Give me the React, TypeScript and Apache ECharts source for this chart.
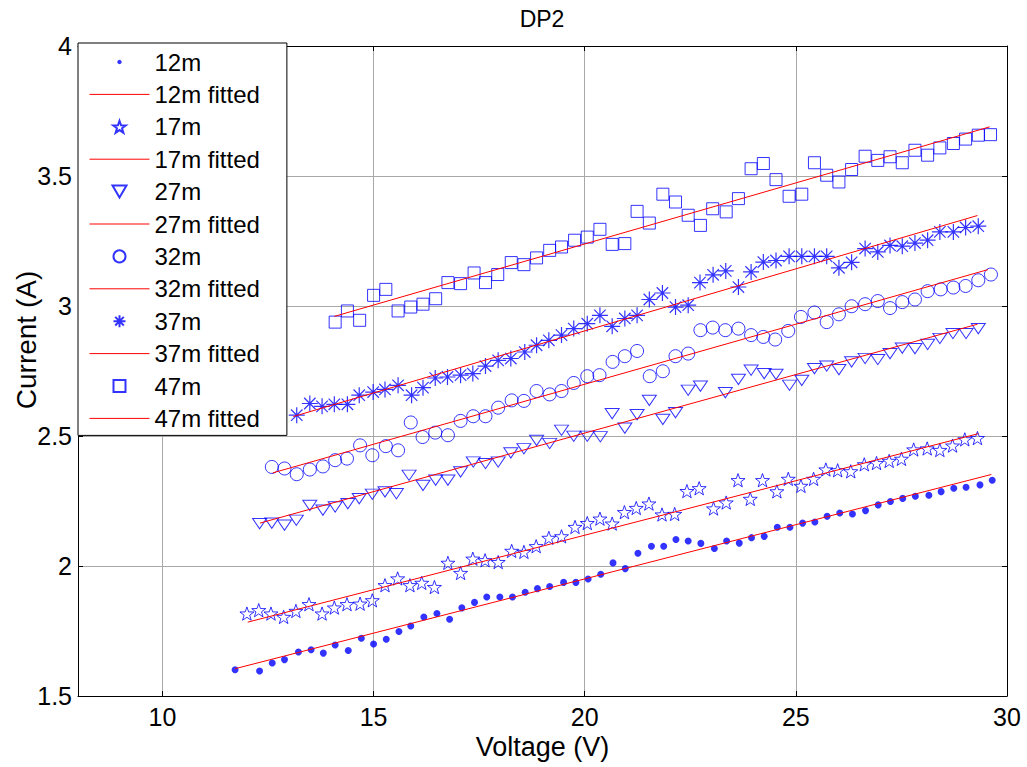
import React, { useEffect, useRef } from "react";
import * as echarts from "echarts";

// ---------- data ----------
const v12 = [11.72, 12.3, 12.6, 12.89, 13.22, 13.52, 13.81, 14.09, 14.4, 14.71, 15.0, 15.3, 15.6, 15.88, 16.19, 16.5, 16.8, 17.09, 17.39, 17.68, 17.99, 18.29, 18.59, 18.88, 19.17, 19.5, 19.79, 20.08, 20.38, 20.67, 20.96, 21.26, 21.58, 21.87, 22.16, 22.45, 22.75, 23.07, 23.36, 23.66, 23.95, 24.25, 24.56, 24.86, 25.16, 25.45, 25.74, 26.04, 26.34, 26.65, 26.95, 27.24, 27.53, 27.83, 28.15, 28.44, 28.74, 29.03, 29.36, 29.65];
const i12 = [1.601, 1.596, 1.627, 1.64, 1.669, 1.678, 1.665, 1.696, 1.675, 1.722, 1.7, 1.718, 1.748, 1.769, 1.804, 1.817, 1.795, 1.839, 1.86, 1.881, 1.881, 1.881, 1.899, 1.913, 1.921, 1.937, 1.937, 1.95, 1.968, 2.012, 1.99, 2.049, 2.076, 2.076, 2.102, 2.096, 2.087, 2.067, 2.096, 2.088, 2.109, 2.114, 2.149, 2.149, 2.165, 2.169, 2.191, 2.204, 2.2, 2.213, 2.235, 2.248, 2.26, 2.268, 2.272, 2.286, 2.299, 2.303, 2.312, 2.33];

const v17 = [12.0, 12.28, 12.57, 12.87, 13.16, 13.47, 13.78, 14.07, 14.37, 14.68, 14.97, 15.27, 15.57, 15.86, 16.14, 16.44, 16.76, 17.06, 17.35, 17.64, 17.95, 18.27, 18.56, 18.85, 19.15, 19.45, 19.77, 20.06, 20.36, 20.65, 20.94, 21.22, 21.52, 21.83, 22.13, 22.42, 22.71, 23.05, 23.35, 23.63, 23.92, 24.21, 24.55, 24.82, 25.12, 25.42, 25.71, 25.99, 26.3, 26.62, 26.91, 27.21, 27.5, 27.79, 28.11, 28.41, 28.71, 29.0, 29.3];
const i17 = [1.817, 1.83, 1.817, 1.804, 1.827, 1.853, 1.817, 1.84, 1.853, 1.855, 1.868, 1.926, 1.952, 1.926, 1.935, 1.919, 2.012, 1.973, 2.028, 2.022, 2.015, 2.058, 2.054, 2.076, 2.108, 2.114, 2.15, 2.165, 2.182, 2.163, 2.207, 2.223, 2.24, 2.198, 2.2, 2.288, 2.299, 2.221, 2.244, 2.33, 2.258, 2.33, 2.287, 2.335, 2.308, 2.335, 2.371, 2.368, 2.364, 2.391, 2.396, 2.404, 2.412, 2.448, 2.452, 2.446, 2.463, 2.487, 2.492];

const v27 = [12.3, 12.59, 12.89, 13.17, 13.49, 13.8, 14.09, 14.39, 14.66, 14.97, 15.27, 15.54, 15.84, 16.17, 16.47, 16.76, 17.06, 17.36, 17.65, 17.95, 18.25, 18.56, 18.86, 19.17, 19.45, 19.74, 20.06, 20.37, 20.65, 20.95, 21.24, 21.53, 21.85, 22.15, 22.45, 22.74, 23.33, 23.64, 23.94, 24.25, 24.53, 24.85, 25.14, 25.44, 25.73, 26.02, 26.32, 26.64, 26.94, 27.23, 27.52, 27.82, 28.12, 28.41, 28.72, 29.03, 29.32];
const i27 = [2.163, 2.165, 2.157, 2.176, 2.233, 2.215, 2.227, 2.24, 2.259, 2.276, 2.285, 2.278, 2.349, 2.31, 2.33, 2.33, 2.362, 2.4, 2.394, 2.4, 2.435, 2.451, 2.483, 2.471, 2.522, 2.499, 2.499, 2.497, 2.586, 2.53, 2.582, 2.637, 2.564, 2.59, 2.676, 2.692, 2.667, 2.718, 2.753, 2.74, 2.737, 2.695, 2.714, 2.759, 2.769, 2.755, 2.785, 2.798, 2.794, 2.817, 2.838, 2.836, 2.852, 2.875, 2.894, 2.894, 2.913];

const v32 = [12.59, 12.89, 13.18, 13.49, 13.8, 14.09, 14.37, 14.68, 14.97, 15.29, 15.58, 15.88, 16.16, 16.46, 16.76, 17.06, 17.36, 17.65, 17.95, 18.27, 18.56, 18.86, 19.17, 19.45, 19.74, 20.06, 20.35, 20.66, 20.95, 21.24, 21.54, 21.85, 22.15, 22.45, 22.74, 23.03, 23.33, 23.64, 23.94, 24.23, 24.51, 24.82, 25.12, 25.44, 25.73, 26.02, 26.32, 26.64, 26.94, 27.23, 27.52, 27.82, 28.12, 28.43, 28.73, 29.02, 29.32, 29.62];
const i32 = [2.381, 2.375, 2.353, 2.371, 2.383, 2.407, 2.413, 2.464, 2.426, 2.461, 2.445, 2.552, 2.496, 2.513, 2.503, 2.558, 2.576, 2.576, 2.609, 2.637, 2.635, 2.673, 2.66, 2.673, 2.704, 2.73, 2.734, 2.785, 2.807, 2.827, 2.73, 2.749, 2.807, 2.817, 2.907, 2.917, 2.907, 2.913, 2.888, 2.881, 2.871, 2.904, 2.958, 2.975, 2.938, 2.968, 2.999, 3.007, 3.019, 2.992, 3.015, 3.025, 3.057, 3.064, 3.071, 3.077, 3.099, 3.121];

const v37 = [13.18, 13.49, 13.78, 14.07, 14.38, 14.66, 14.99, 15.27, 15.58, 15.9, 16.17, 16.46, 16.75, 17.06, 17.35, 17.65, 17.95, 18.25, 18.58, 18.86, 19.15, 19.45, 19.74, 20.06, 20.36, 20.65, 20.95, 21.24, 21.53, 21.84, 22.15, 22.45, 22.73, 23.04, 23.34, 23.64, 23.94, 24.23, 24.53, 24.84, 25.14, 25.44, 25.73, 26.02, 26.32, 26.64, 26.94, 27.23, 27.52, 27.82, 28.12, 28.41, 28.73, 29.02, 29.32];
const i37 = [2.58, 2.625, 2.614, 2.622, 2.622, 2.657, 2.669, 2.679, 2.695, 2.657, 2.686, 2.723, 2.727, 2.734, 2.74, 2.769, 2.791, 2.798, 2.823, 2.849, 2.868, 2.888, 2.913, 2.932, 2.964, 2.922, 2.952, 2.964, 3.025, 3.05, 2.996, 3.003, 3.09, 3.12, 3.135, 3.073, 3.131, 3.169, 3.175, 3.191, 3.191, 3.191, 3.191, 3.147, 3.168, 3.221, 3.208, 3.233, 3.23, 3.242, 3.253, 3.285, 3.285, 3.302, 3.307];

const v47 = [14.09, 14.38, 14.67, 15.0, 15.29, 15.58, 15.88, 16.17, 16.47, 16.76, 17.06, 17.38, 17.65, 17.94, 18.26, 18.56, 18.86, 19.17, 19.45, 19.76, 20.06, 20.36, 20.65, 20.95, 21.24, 21.53, 21.85, 22.15, 22.45, 22.74, 23.03, 23.35, 23.64, 23.94, 24.23, 24.53, 24.84, 25.14, 25.44, 25.73, 26.02, 26.32, 26.64, 26.94, 27.23, 27.52, 27.82, 28.12, 28.41, 28.73, 29.02, 29.32, 29.61];
const i47 = [2.938, 2.981, 2.945, 3.041, 3.064, 2.981, 2.996, 3.007, 3.028, 3.09, 3.086, 3.127, 3.09, 3.121, 3.167, 3.159, 3.185, 3.214, 3.227, 3.253, 3.265, 3.295, 3.237, 3.24, 3.364, 3.319, 3.43, 3.4, 3.349, 3.31, 3.374, 3.362, 3.413, 3.528, 3.548, 3.486, 3.422, 3.43, 3.551, 3.503, 3.477, 3.525, 3.576, 3.56, 3.574, 3.551, 3.599, 3.58, 3.608, 3.625, 3.642, 3.657, 3.659];

// fitted lines: end points (voltage, current)
const fit12V = [11.72, 29.63];
const fit12I = [1.605, 2.352];
const fit17V = [12.02, 29.32];
const fit17I = [1.784, 2.509];
const fit27V = [12.31, 29.3];
const fit27I = [2.165, 2.93];
const fit32V = [12.61, 29.55];
const fit32I = [2.358, 3.14];
const fit37V = [13.1, 29.3];
const fit37I = [2.575, 3.348];
const fit47V = [14.07, 29.59];
const fit47I = [2.96, 3.689];

const seriesNames = ["12m", "17m", "27m", "32m", "37m", "47m"];

// ---------- styles ----------
const FONT = "'Liberation Sans', Arial, Helvetica, sans-serif";
const BLUE = "#0000ff";
const RED = "#ff0000";
const CLEAR = "rgba(0,0,0,0)";

const STAR = "path://M10 0 L12.35 6.76 L19.51 6.91 L13.8 11.24 L15.88 18.09 L10 14 L4.12 18.09 L6.2 11.24 L0.49 6.91 L7.65 6.76 Z";
const TRI_DOWN = "path://M0 0 L14 0 L7 12 Z";
const ASTERISK = "path://M7 0 L7 14 M0 7 L14 7 M2 2 L12 12 M12 2 L2 12";
const SQUARE = "path://M0 0 L12 0 L12 12 L0 12 Z";
const SMALL_DOT = "path://M0 0 M26 26 M18 13 L16.5 16.5 L13 18 L9.5 16.5 L8 13 L9.5 9.5 L13 8 L16.5 9.5 Z";

const zip = (a: number[], b: number[]) => a.map((x, k) => [x, b[k]]);

export default function App() {
  const ref = useRef<HTMLDivElement>(null);

  useEffect(() => {
    if (!ref.current) return;
    const chart = echarts.init(ref.current, null, { renderer: "svg" });

    const hollow = { color: CLEAR, borderColor: BLUE, borderWidth: 1 };
    const scatter = (name: string, v: number[], c: number[], symbol: string, size: any, itemStyle: any) => ({
      type: "scatter",
      name,
      data: zip(v, c),
      symbol,
      symbolSize: size,
      symbolKeepAspect: true,
      itemStyle,
      emphasis: { disabled: true },
    });
    const fit = (name: string, v: number[], c: number[]) => ({
      type: "line",
      name,
      data: zip(v, c),
      symbol: "none",
      showSymbol: false,
      lineStyle: { color: RED, width: 1 },
      itemStyle: { color: RED },
      emphasis: { disabled: true },
    });

    const series = [
      scatter("12m", v12, i12, "circle", 7, { color: BLUE }),
      fit("12m fitted", fit12V, fit12I),
      scatter("17m", v17, i17, STAR, 14, hollow),
      fit("17m fitted", fit17V, fit17I),
      scatter("27m", v27, i27, TRI_DOWN, [14, 12], hollow),
      fit("27m fitted", fit27V, fit27I),
      scatter("32m", v32, i32, "circle", 13, hollow),
      fit("32m fitted", fit32V, fit32I),
      scatter("37m", v37, i37, ASTERISK, 16, { color: CLEAR, borderColor: BLUE, borderWidth: 1.2 }),
      fit("37m fitted", fit37V, fit37I),
      scatter("47m", v47, i47, SQUARE, 12, hollow),
      fit("47m fitted", fit47V, fit47I),
    ];

    const legendData: any[] = [];
    seriesNames.forEach((n, k) => {
      legendData.push(k === 0 ? { name: n, icon: SMALL_DOT } : { name: n });
      legendData.push({
        name: n + " fitted",
        itemStyle: { color: CLEAR, borderColor: CLEAR, borderWidth: 0, opacity: 0 },
        lineStyle: { color: RED, width: 1 },
      });
    });

    const axisCommon = {
      axisLine: { show: true, onZero: false, lineStyle: { color: "#000", width: 1 } },
      axisTick: { show: true, inside: true, length: 5, lineStyle: { color: "#000" } },
    };

    chart.setOption({
      animation: false,
      backgroundColor: "#fff",
      textStyle: { fontFamily: FONT },
      grid: { left: 78, top: 46, right: 20, bottom: 71, show: false },
      legend: {
        data: legendData,
        orient: "vertical",
        left: 78,
        top: 43,
        padding: [7, 27, 5, 11],
        itemGap: 8.4,
        itemWidth: 60,
        itemHeight: 12,
        backgroundColor: "#fff",
        borderColor: "#000",
        borderWidth: 1,
        borderRadius: 0,
        selectedMode: false,
        textStyle: { fontFamily: FONT, fontSize: 24, color: "#000", lineHeight: 24 },
      },
      xAxis: [
        {
          type: "value",
          min: 8,
          max: 30,
          splitNumber: 5,
          ...axisCommon,
          axisLabel: { showMinLabel: false, fontFamily: FONT, fontSize: 25, color: "#000", margin: 8 },
          splitLine: { show: true, lineStyle: { color: "#a8a8a8", width: 1 } },
          name: "Voltage (V)",
          nameLocation: "middle",
          nameGap: 32,
          nameTextStyle: { fontFamily: FONT, fontSize: 27, color: "#000" },
        },
        {
          type: "value",
          position: "top",
          min: 8,
          max: 30,
          splitNumber: 5,
          ...axisCommon,
          axisLabel: { show: false },
          splitLine: { show: false },
        },
      ],
      yAxis: [
        {
          type: "value",
          min: 1.5,
          max: 4,
          interval: 0.5,
          ...axisCommon,
          axisLabel: { fontFamily: FONT, fontSize: 25, color: "#000", margin: 6 },
          splitLine: { show: true, lineStyle: { color: "#a8a8a8", width: 1 } },
        },
        {
          type: "value",
          position: "right",
          min: 1.5,
          max: 4,
          interval: 0.5,
          ...axisCommon,
          axisLabel: { show: false },
          splitLine: { show: false },
        },
      ],
      graphic: [
        {
          type: "text",
          x: 542,
          y: 19,
          style: { text: "DP2", font: `23px ${FONT}`, fill: "#000", align: "center", verticalAlign: "middle" },
        },
        {
          type: "text",
          x: 26,
          y: 340,
          rotation: Math.PI / 2,
          style: { text: "Current (A)", font: `28px ${FONT}`, fill: "#000", align: "center", verticalAlign: "middle" },
        },
      ],
      series,
    });

    return () => chart.dispose();
  }, []);

  return (
    <div
      ref={ref}
      style={{ position: "fixed", left: 0, top: 0, width: 1027, height: 767, background: "#fff" }}
    />
  );
}
